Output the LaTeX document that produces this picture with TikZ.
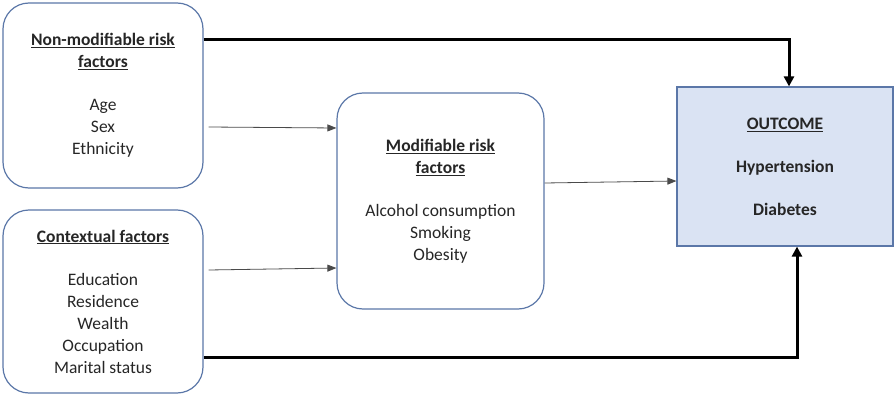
\documentclass[tikz,border=0pt]{standalone}
\usepackage{fontspec}
\setmainfont{Carlito}
\usetikzlibrary{arrows.meta}
\definecolor{boxedge}{HTML}{5B77A8}
\definecolor{outfill}{HTML}{DAE3F3}
\definecolor{thinline}{HTML}{4A4A4A}
\definecolor{textink}{HTML}{262626}

\begin{document}
\begin{tikzpicture}[x=1pt, y=-1pt,
                    every node/.style={textink, font=\fontsize{17.5}{22}\selectfont, align=center, inner sep=0pt},
                    factorbox/.style={draw=boxedge, line width=1.2pt, rounded corners=26pt},
                    outbox/.style={draw=boxedge, fill=outfill, line width=1.2pt},
                    thinarrow/.style={draw=thinline, line width=0.8pt, -{Triangle[length=9pt, width=7pt]}},
                    thickarrow/.style={draw=black, line width=3pt, -{Triangle[length=10pt, width=10pt]}}]

  \useasboundingbox (0,0) rectangle (895,396);

  %% 左邊兩個因素方塊
  \node[factorbox, minimum width=200pt, minimum height=185pt] (nonmod) at (103,95.5)
    {\textbf{\underline{Non-modifiable risk}}\\\textbf{\underline{factors}}\\[21pt]Age\\Sex\\Ethnicity};
  \node[factorbox, minimum width=200pt, minimum height=183pt] (context) at (103,301.5)
    {\textbf{\underline{Contextual factors}}\\[21pt]Education\\Residence\\Wealth\\Occupation\\Marital status};

  %% 中間的可改變因素
  \node[factorbox, minimum width=207pt, minimum height=216pt] (modif) at (440.5,201)
    {\textbf{\underline{Modifiable risk}}\\\textbf{\underline{factors}}\\[21pt]Alcohol consumption\\Smoking\\Obesity};

  %% 結果
  \node[outbox, minimum width=216pt, minimum height=159pt] (outcome) at (785,166.5)
    {\textbf{\underline{OUTCOME}}\\[21pt]\textbf{Hypertension}\\[21pt]\textbf{Diabetes}};

  %% 細箭頭
  \draw[thinarrow] ([xshift=5pt, yshift=-31.5pt]nonmod.east) -- ([yshift=73pt]modif.west);
  \draw[thinarrow] ([xshift=5pt, yshift=31.5pt]context.east) -- ([yshift=-67pt]modif.west);
  \draw[thinarrow] ([yshift=18pt]modif.east) -- ([yshift=-14.5pt]outcome.west);

  %% 直接連到結果的粗箭頭
  \draw[thickarrow] ([yshift=55.5pt]nonmod.east) -| ([xshift=4pt]outcome.north);
  \draw[thickarrow] ([yshift=-55.5pt]context.east) -| ([xshift=12pt]outcome.south);

\end{tikzpicture}
\end{document}
